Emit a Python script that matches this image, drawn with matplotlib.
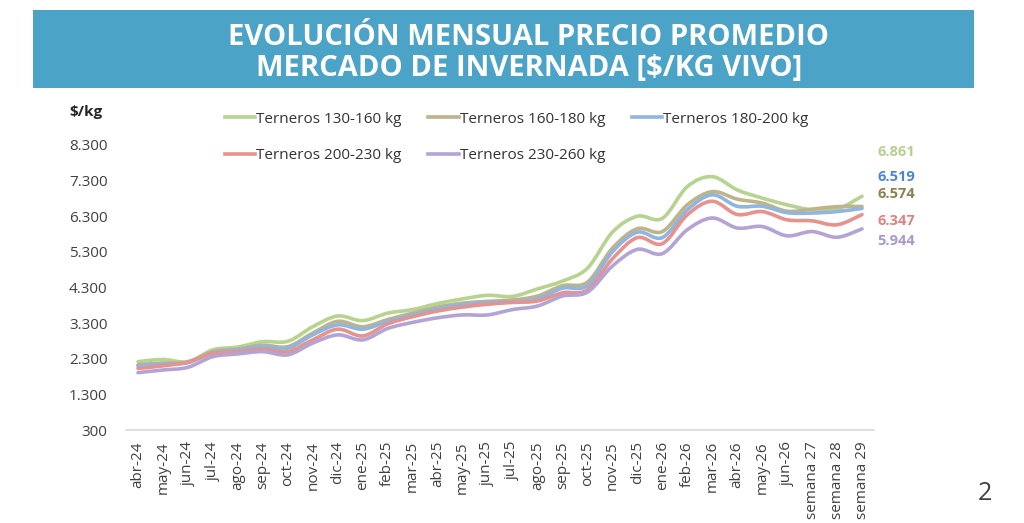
import matplotlib
matplotlib.use('Agg')
import matplotlib.pyplot as plt
from matplotlib.path import Path
from matplotlib.patches import PathPatch, Rectangle
from matplotlib.lines import Line2D

plt.rcParams['font.family'] = ['Open Sans', 'DejaVu Sans']

# ===================== datos =====================
meses = ['abr-24', 'may-24', 'jun-24', 'jul-24', 'ago-24', 'sep-24', 'oct-24', 'nov-24',
         'dic-24', 'ene-25', 'feb-25', 'mar-25', 'abr-25', 'may-25', 'jun-25', 'jul-25',
         'ago-25', 'sep-25', 'oct-25', 'nov-25', 'dic-25', 'ene-26', 'feb-26', 'mar-26',
         'abr-26', 'may-26', 'jun-26', 'semana 27', 'semana 28', 'semana 29']

t130_160 = [2220, 2280, 2220, 2550, 2630, 2780, 2790, 3200, 3500, 3370, 3580, 3680, 3850, 3980, 4080,
            4050, 4260, 4480, 4840, 5850, 6300, 6240, 7130, 7410, 7040, 6810, 6620, 6480, 6500, 6861]
t160_180 = [2130, 2180, 2200, 2500, 2570, 2680, 2640, 3020, 3350, 3200, 3400, 3580, 3750, 3860, 3910,
            3950, 4060, 4350, 4450, 5400, 5950, 5870, 6620, 6990, 6780, 6670, 6440, 6500, 6570, 6574]
t180_200 = [2100, 2150, 2190, 2470, 2550, 2640, 2600, 2970, 3250, 3130, 3350, 3530, 3700, 3820, 3880,
            3900, 3980, 4280, 4350, 5300, 5850, 5700, 6480, 6900, 6580, 6580, 6400, 6390, 6430, 6519]
t200_230 = [2030, 2100, 2210, 2450, 2500, 2570, 2500, 2830, 3130, 2940, 3280, 3480, 3640, 3750, 3830,
            3880, 3920, 4150, 4230, 5100, 5700, 5530, 6340, 6720, 6350, 6430, 6200, 6170, 6060, 6347]
t230_260 = [1910, 1985, 2060, 2360, 2435, 2500, 2410, 2740, 2970, 2830, 3150, 3320, 3450, 3530, 3530,
            3680, 3780, 4060, 4170, 4900, 5370, 5250, 5920, 6250, 5970, 6010, 5750, 5870, 5710, 5944]

nombres = ['Terneros 130-160 kg', 'Terneros 160-180 kg', 'Terneros 180-200 kg',
           'Terneros 200-230 kg', 'Terneros 230-260 kg']
series = [t130_160, t160_180, t180_200, t200_230, t230_260]
colores = ['#B6D38F', '#BDB487', '#8FB5E0', '#E6928D', '#B4A3D5']
col_etiq = ['#B3D18D', '#8C7F4E', '#4A86D4', '#E0837F', '#A898D0']
desp_etiq = [44, 12, 31, -6, -12]   # px, desplazamiento vertical de etiquetas finales


def curva_suave(xs, ys):
    # linea suavizada tipo Excel (Catmull-Rom -> Bezier)
    n = len(xs)
    verts = [(xs[0], ys[0])]
    codes = [Path.MOVETO]
    for i in range(n - 1):
        a = i - 1 if i > 0 else i
        d = i + 2 if i + 2 < n else i + 1
        c1 = (xs[i] + (xs[i + 1] - xs[a]) / 6, ys[i] + (ys[i + 1] - ys[a]) / 6)
        c2 = (xs[i + 1] - (xs[d] - xs[i]) / 6, ys[i + 1] - (ys[d] - ys[i]) / 6)
        verts += [c1, c2, (xs[i + 1], ys[i + 1])]
        codes += [Path.CURVE4] * 3
    return Path(verts, codes)


fig = plt.figure(figsize=(10.24, 5.23), dpi=100)
ax = fig.add_axes([0.1226, 0.1778, 0.7314, 0.545])

# banner del titulo
fig.patches.append(Rectangle((33 / 1024, 1 - 88 / 523), 941 / 1024, 78 / 523,
                             transform=fig.transFigure, facecolor='#4BA3C7', edgecolor='none'))
fig.text(0.5166, 1 - 45 / 523, 'EVOLUCIÓN MENSUAL PRECIO PROMEDIO', color='white', fontsize=21,
         fontweight='bold', ha='center', va='baseline')
fig.text(0.5166, 1 - 76 / 523, 'MERCADO DE INVERNADA [$/KG VIVO]', color='white', fontsize=21,
         fontweight='bold', ha='center', va='baseline')

x = list(range(len(meses)))
handles = []
for s, nom, c in zip(series, nombres, colores):
    ax.add_patch(PathPatch(curva_suave(x, s), facecolor='none', edgecolor=c, lw=2.6,
                           capstyle='round', joinstyle='round'))
    handles.append(Line2D([], [], color=c, lw=2.6, label=nom))

for k, s in enumerate(series):
    ax.annotate(f'{s[-1]:,}'.replace(',', '.'), xy=(x[-1], s[-1]),
                xytext=(15 * 0.72, desp_etiq[k] * 0.72), textcoords='offset points',
                color=col_etiq[k], fontsize=10.5, fontweight='bold', ha='left', va='center',
                annotation_clip=False)

ax.set_xlim(-0.5, len(meses) - 0.5)
ax.set_ylim(300, 8300)
ax.set_yticks(range(300, 8301, 1000))
ax.set_yticklabels([f'{v:,}'.replace(',', '.') for v in range(300, 8301, 1000)])
ax.set_xticks(x)
ax.set_xticklabels(meses, rotation=90)
ax.tick_params(length=0, labelsize=11, colors='#404040', pad=8)
ax.tick_params(axis='y', pad=13)
for lado in ['top', 'left', 'right']:
    ax.spines[lado].set_visible(False)
ax.spines['bottom'].set_color('#D9D9D9')
ax.spines['bottom'].set_linewidth(1.2)

fig.text(0.068, 1 - 112 / 523, '$/kg', fontsize=11, fontweight='bold', color='#262626',
         va='center', ha='left')

orden = [0, 3, 1, 4, 2]
fig.legend([handles[i] for i in orden], [nombres[i] for i in orden], ncol=3, frameon=False,
           loc='upper left', bbox_to_anchor=(0.212, 1 - 104 / 523), fontsize=11,
           handlelength=2.0, handletextpad=0.05, columnspacing=1.75, labelspacing=1.4,
           borderpad=0, labelcolor='#333333')

fig.text(0.962, 1 - 493 / 523, '2', fontsize=18, color='#404040', ha='center', va='center')

fig.savefig('out.png', dpi=100, facecolor='white')
